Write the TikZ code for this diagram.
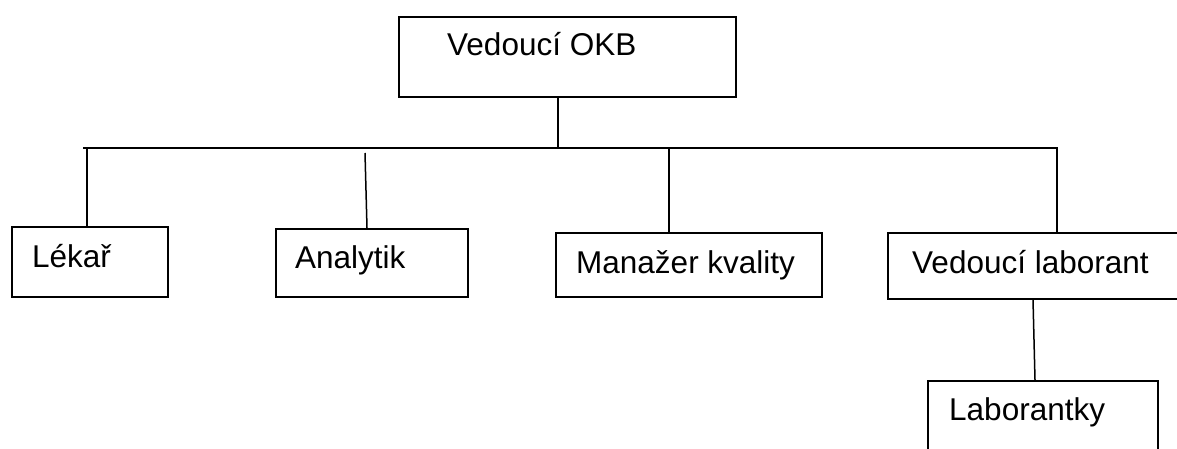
\documentclass[tikz,border=0pt]{standalone}
\usepackage{fontspec}
\setmainfont{Liberation Sans}
\begin{document}
\begin{tikzpicture}[x=1pt, y=-1pt,
    box/.style={draw, line width=1.8pt, anchor=north west, inner sep=0pt},
    lbl/.style={anchor=base west, inner sep=0pt, font=\fontsize{31.5}{36}\selectfont},
    edge/.style={line width=1.5pt}]
    \useasboundingbox (0,0) rectangle (1177,449);
    \clip (0,0) rectangle (1177,449);

    % Define the nodes
    \node[box, minimum width=337pt, minimum height=80pt] (okb) at (398, 16) {};
    \node[box, minimum width=156pt, minimum height=70pt] (lekar) at (11, 226) {};
    \node[box, minimum width=192pt, minimum height=68pt] (analytik) at (275, 228) {};
    \node[box, minimum width=266pt, minimum height=64pt] (manazer) at (555, 232) {};
    \node[box, minimum width=320pt, minimum height=66pt] (laborant) at (887, 232) {};
    \node[box, minimum width=230pt, minimum height=100pt] (laborantky) at (927, 380) {};

    \node[lbl] (okbText) at (447, 56) {Vedoucí OKB};
    \node[lbl] (lekarText) at (32, 267) {Lékař};
    \node[lbl] (analytikText) at (295, 268) {Analytik};
    \node[lbl] (manazerText) at (576, 273) {Manažer kvality};
    \node[lbl] (laborantText) at (912, 273) {Vedoucí laborant};
    \node[lbl] (laborantkyText) at (949, 420) {Laborantky};

    % Bus points
    \coordinate (bus) at (558, 148);
    \coordinate (busL) at (83, 148);
    \coordinate (busR) at (1057, 148);
    \coordinate (jLekar) at (87, 148);
    \coordinate (jAnalytik) at (365, 153);
    \coordinate (jManazer) at (669, 148);
    \coordinate (jLab) at (1033, 0);

    % Draw the edges
    \draw[edge] (okb.south -| bus) -- (bus);
    \draw[edge] (busL) -- (busR) -- (busR |- laborant.north);
    \draw[edge] (jLekar) -- (jLekar |- lekar.north);
    \draw[edge] (jAnalytik) -- ([xshift=2pt]jAnalytik |- analytik.north);
    \draw[edge] (jManazer) -- (jManazer |- manazer.north);
    \draw[edge] (laborant.south -| jLab) -- ([xshift=2pt]jLab |- laborantky.north);
\end{tikzpicture}
\end{document}
